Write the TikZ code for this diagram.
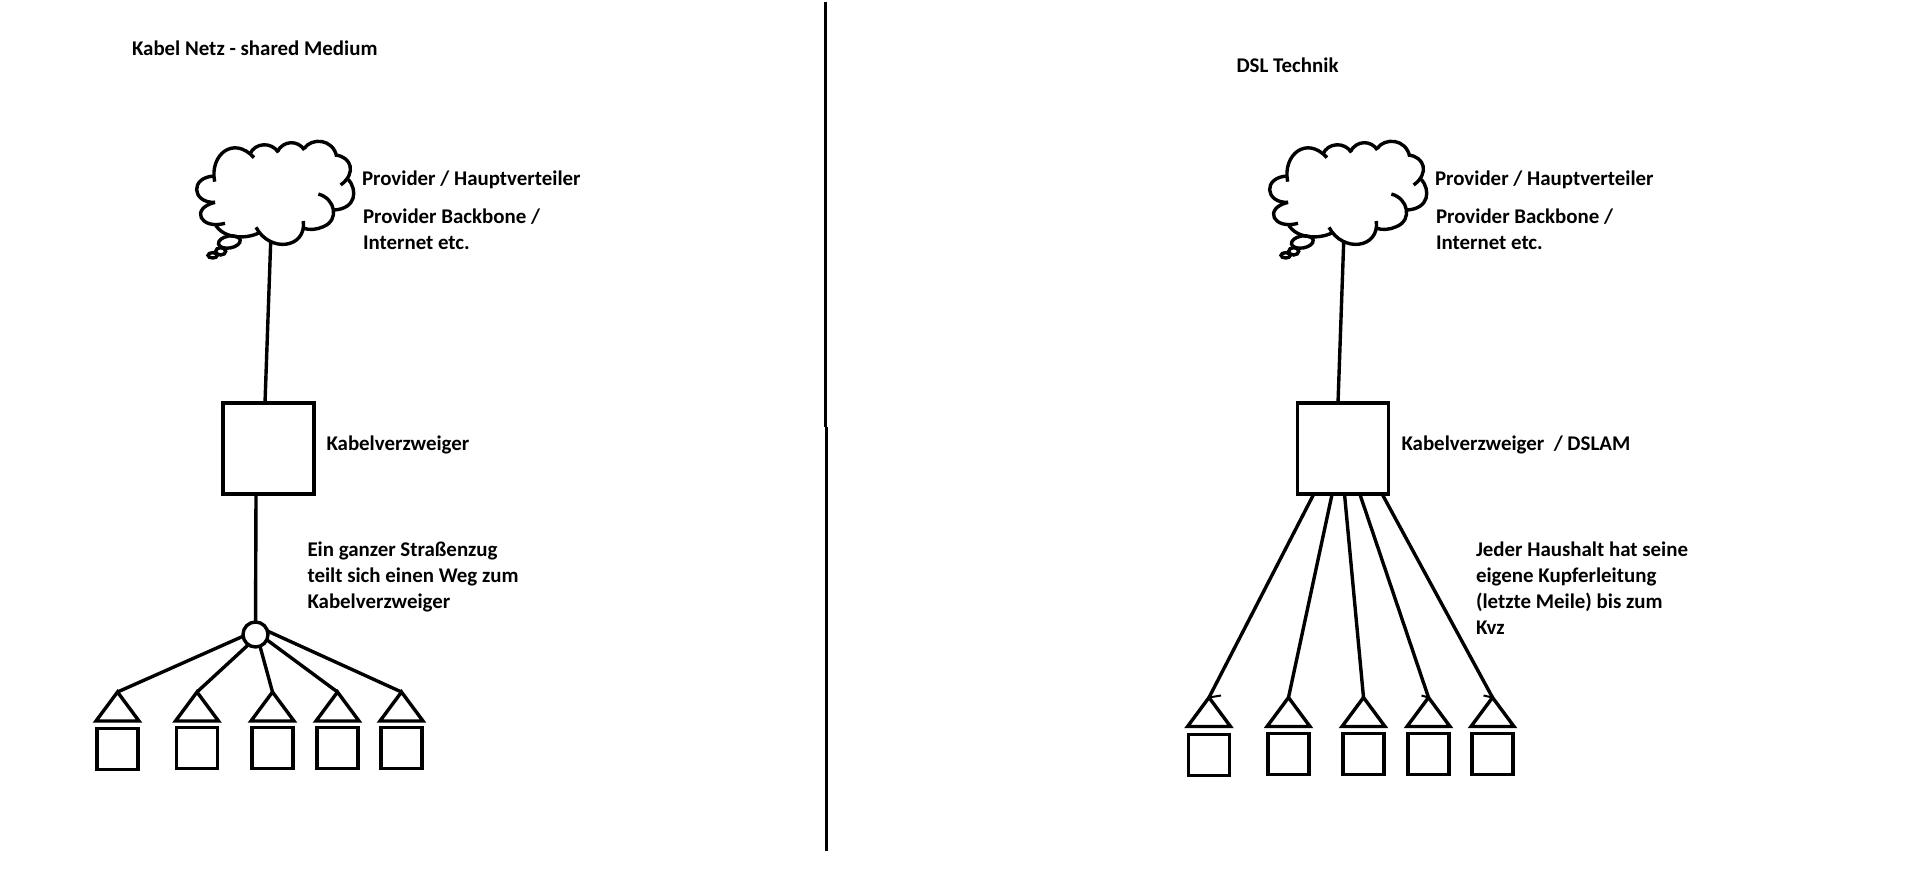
\documentclass[tikz,border=0pt]{standalone}
\usepackage{fontspec}
\setmainfont{Carlito}
\tikzset{
 strich/.style={line width=3.4pt, black},
 schrift/.style={anchor=base west, inner sep=0pt, outer sep=0pt, align=left, text=black, font=\fontsize{20.9}{26}\selectfont\bfseries},
 kasten/.style={draw, line width=3.4pt, minimum size=91pt, inner sep=0pt, outer sep=0pt},
 haus/.style={draw, line width=3.4pt, minimum size=41pt, inner sep=0pt, outer sep=0pt},
 knoten/.style={draw, circle, line width=3.4pt, minimum size=25pt, inner sep=0pt, outer sep=0pt}
}
\begin{document}
\begin{tikzpicture}[x=1pt, y=-1pt]
 \useasboundingbox (0,0) rectangle (1913,872);
 % Trennlinie
 \draw[strich] (825.5,2) -- (825.5,427);
 \draw[strich] (826.5,427) -- (826.5,851);
 % Ueberschriften
 \node[schrift] (titelL) at (132,56) {Kabel Netz - shared Medium};
 \node[schrift] (titelR) at (1236.5,72.5) {DSL Technik};
 % Wolke und Texte, links und rechts gleich
 \foreach \dx/\s in {180/L, 1253/R} {
 \begin{scope}[shift={(\dx,120)}, scale=1/3]
  \draw[strich] (104,185) .. controls (88,105) and (160,45) .. (222,113);
  \draw[strich] (210,102) .. controls (225,67) and (275,65) .. (295,97);
  \draw[strich] (292,95) .. controls (310,60) and (355,60) .. (373,90);
  \draw[strich] (373,85) .. controls (395,52) and (460,56) .. (470,110);
  \draw[strich] (466,105) .. controls (515,110) and (530,160) .. (482,195);
  \draw[strich] (505,178) .. controls (532,210) and (530,265) .. (463,270);
  \draw[strich] (415,222) .. controls (465,235) and (480,300) .. (430,320) .. controls (410,330) and (385,330) .. (372,325);
  \draw[strich] (370,303) .. controls (380,385) and (270,400) .. (228,322);
  \draw[strich] (238,338) .. controls (200,358) and (130,358) .. (105,312);
  \draw[strich] (135,310) .. controls (60,330) and (30,265) .. (105,247);
  \draw[strich] (105,247) .. controls (35,250) and (28,170) .. (105,168);
  % kleine Blasen
  \draw[strich, rotate around={10:(148,366)}] (148,366) ellipse[x radius=33, y radius=18];
  \draw[strich] (122,394) ellipse[x radius=15, y radius=11];
  \draw[strich] (98,406) ellipse[x radius=14, y radius=8];
  \coordinate (wolke\s) at (272,368);
 \end{scope}
 \node[schrift] (prov\s) at ({\dx+182},185) {Provider / Hauptverteiler};
 \node[schrift] (backbone\s) at ({\dx+183},249) {Provider Backbone /\\Internet etc.};
 }
 % Kabelnetz links
 \node[kasten] (kvzL) at (268.5,448.5) {};
 \node[schrift] (kvzTextL) at (326.5,450) {Kabelverzweiger};
 \node[schrift] (wegText) at (307.5,608) {Ein ganzer Straßenzug\\teilt sich einen Weg zum\\Kabelverzweiger};
 \node[knoten] (abzweig) at (255.5,634.5) {};
 \draw[strich] (wolkeL) -- ([xshift=42pt]kvzL.north west);
 \draw[strich] ([xshift=33pt]kvzL.south west) -- (abzweig);
 \foreach \i/\x/\y/\w in {1/117.5/749/188, 2/197/748/235, 3/272.5/748/291, 4/337.5/748/335, 5/401.5/748/16} {
  \coordinate (dachL\i) at (\x,692);
  \draw[strich] (dachL\i) -- ++(-21.5,29) -- ++(43,0) -- cycle;
  \node[haus] (hausL\i) at (\x,\y) {};
  \draw[strich] (abzweig.\w) -- (dachL\i);
 }
 % DSL rechts
 \node[kasten] (kvzR) at (1343,448.5) {};
 \node[schrift] (kvzTextR) at (1401.5,450) {Kabelverzweiger~~/ DSLAM};
 \node[schrift] (haushaltText) at (1476,634) {Jeder Haushalt hat seine\\eigene Kupferleitung\\(letzte Meile) bis zum\\Kvz};
 \draw[strich] (wolkeR) -- ([xshift=40.5pt]kvzR.north west);
 \foreach \i/\x/\y/\a in {1/1209/755/16.3, 2/1288.5/754/34.6, 3/1363.5/754/47, 4/1428.5/754/62.3, 5/1492.5/754/84.6} {
  \coordinate (dachR\i) at (\x,697.5);
  \draw[strich] (dachR\i) -- ++(-21.5,29) -- ++(43,0) -- cycle;
  \node[haus] (hausR\i) at (\x,\y) {};
  \draw[strich] ([xshift=\a pt]kvzR.south west) -- (dachR\i);
 }
 % kleine Pfeilspitzen
 \draw[line width=2pt] (dachR1) -- ++(12,-2);
 \draw[line width=2pt] (dachR4) -- ++(-7,-2);
 \draw[line width=2pt] (dachR5) -- ++(-9,-2);
\end{tikzpicture}
\end{document}
